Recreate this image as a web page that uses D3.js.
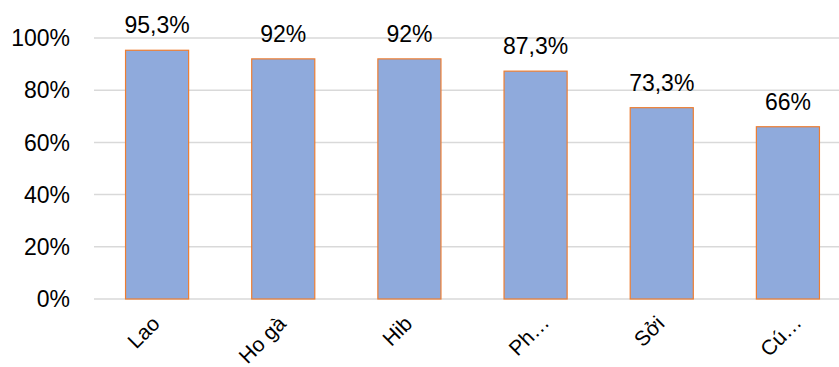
<!DOCTYPE html>
<html>
<head>
<meta charset="utf-8">
<script src="https://cdn.jsdelivr.net/npm/d3@7"></script>
<style>
	html, body { margin: 0; padding: 0; background: #fff; }
	svg { display: block; }
	text { font-family: "Liberation Sans", Arial, sans-serif; fill: #000; }
</style>
</head>
<body>
<div id="chart"></div>
<script>
const categories = ["Lao", "Ho gà", "Hib", "Ph…", "Sởi", "Cú…"];
const values = [95.3, 92, 92, 87.3, 73.3, 66];
const valueLabels = ["95,3%", "92%", "92%", "87,3%", "73,3%", "66%"];
const yTicks = [0, 20, 40, 60, 80, 100];

const width = 839, height = 367;
/* plot area runs past the right edge, as in the original */
const plot = { left: 94, right: 851, top: 38, bottom: 299 };

const svg = d3.select("#chart")
	.append("svg")
	.attr("width", width)
	.attr("height", height);

const x = d3.scaleBand()
	.domain(categories)
	.range([plot.left, plot.right])
	.paddingInner(0.5)
	.paddingOuter(0.25);

const y = d3.scaleLinear()
	.domain([0, 100])
	.range([plot.bottom, plot.top]);

/* gridlines */
svg.append("g")
	.attr("class", "grid")
	.selectAll("line")
	.data(yTicks)
	.enter()
	.append("line")
		.attr("x1", plot.left)
		.attr("x2", plot.right)
		.attr("y1", (d) => y(d))
		.attr("y2", (d) => y(d))
		.style("stroke", "#d9d9d9")
		.style("stroke-width", 1.5);

/* y axis labels */
svg.append("g")
	.attr("class", "y-labels")
	.selectAll("text")
	.data(yTicks)
	.enter()
	.append("text")
		.attr("x", 70)
		.attr("y", (d) => y(d))
		.attr("dy", "0.36em")
		.attr("text-anchor", "end")
		.attr("font-size", "23px")
		.text((d) => d + "%");

/* bars */
svg.append("g")
	.attr("class", "bars")
	.selectAll("rect")
	.data(values)
	.enter()
	.append("rect")
		.attr("x", (d, i) => x(categories[i]))
		.attr("y", (d) => y(d))
		.attr("width", x.bandwidth())
		.attr("height", (d) => y(0) - y(d))
		.style("fill", "#8faadc")
		.style("stroke", "#ed7d31")
		.style("stroke-width", 1.2);

/* value labels */
svg.append("g")
	.attr("class", "values")
	.selectAll("text")
	.data(values)
	.enter()
	.append("text")
		.attr("x", (d, i) => x(categories[i]) + x.bandwidth() / 2)
		.attr("y", (d) => y(d) - 17)
		.attr("text-anchor", "middle")
		.attr("font-size", "23px")
		.text((d, i) => valueLabels[i]);

/* category labels, rotated 45 degrees; the truncated ones sit a bit further right */
svg.append("g")
	.attr("class", "x-labels")
	.selectAll("text")
	.data(categories)
	.enter()
	.append("text")
		.attr("transform", (d) => {
			const cut = d.endsWith("…");
			const tx = x(d) + x.bandwidth() / 2 + (cut ? 15 : 4);
			const ty = plot.bottom + (cut ? 25 : 26);
			return `translate(${tx},${ty}) rotate(-45)`;
		})
		.attr("text-anchor", "end")
		.attr("font-size", "21px")
		.text((d) => d);
</script>
</body>
</html>
